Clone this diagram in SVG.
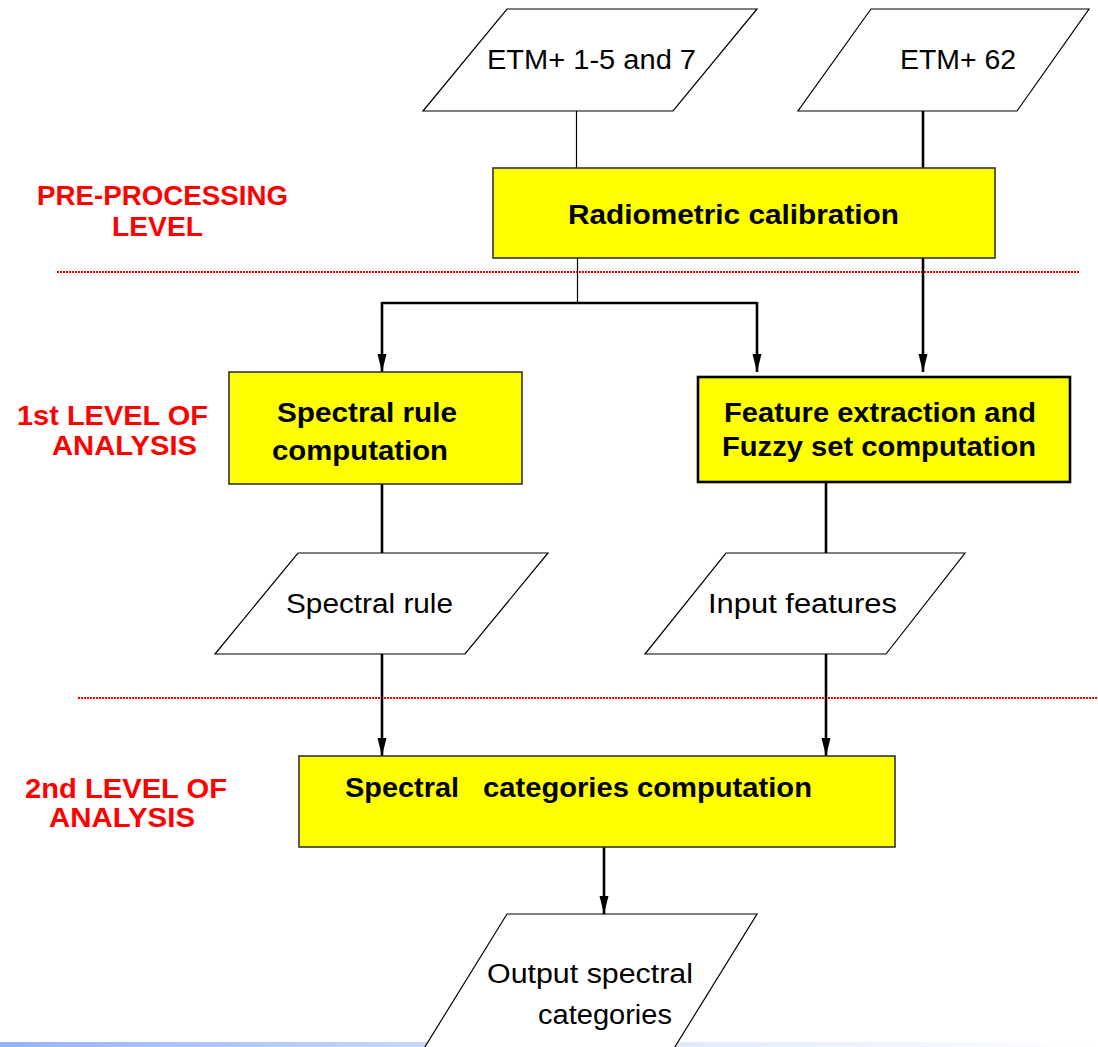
<svg xmlns="http://www.w3.org/2000/svg" width="1098" height="1047" viewBox="0 0 1098 1047">
  <style>
    .para { fill: #ffffff; stroke: #000000; stroke-width: 1.2; }
    .box { fill: #ffff00; stroke: #333333; stroke-width: 1.6; }
    .reg { font-family: "Liberation Sans", Arial, sans-serif; font-size: 27px; fill: #000000; }
    .bold { font-family: "Liberation Sans", Arial, sans-serif; font-size: 27px; font-weight: bold; fill: #000000; }
    .lab { font-family: "Liberation Sans", Arial, sans-serif; font-size: 27px; font-weight: bold; fill: #ff0000; }
    .thin { stroke: #000000; stroke-width: 1.2; fill: none; }
    .thick { stroke: #000000; stroke-width: 2.6; fill: none; }
    .sep { stroke: #ff0000; stroke-width: 2; stroke-dasharray: 2 1; fill: none; }
  </style>
  <defs>
    <marker id="arr" markerUnits="userSpaceOnUse" markerWidth="18" markerHeight="10" refX="18" refY="5" orient="auto">
      <path d="M0,0.5 L18,5 L0,9.5 z" fill="#000000"/>
    </marker>
    <linearGradient id="bar" x1="0" y1="0" x2="1" y2="0">
      <stop offset="0" stop-color="#94b4f4"/>
      <stop offset="0.5" stop-color="#d6e3fc"/>
      <stop offset="1" stop-color="#ffffff"/>
    </linearGradient>
  </defs>

  <rect x="0" y="1042" width="1098" height="5" fill="url(#bar)"/>

  <g id="separators">
    <line class="sep" x1="57" y1="272" x2="1080" y2="272"/>
    <line class="sep" x1="78" y1="698" x2="1098" y2="698"/>
  </g>

  <g id="labels">
    <text class="lab" x="37" y="205" textLength="251" lengthAdjust="spacingAndGlyphs">PRE-PROCESSING</text>
    <text class="lab" x="112" y="236" textLength="91" lengthAdjust="spacingAndGlyphs">LEVEL</text>
    <text class="lab" x="17" y="425" textLength="191" lengthAdjust="spacingAndGlyphs">1st LEVEL OF</text>
    <text class="lab" x="52" y="455" textLength="145" lengthAdjust="spacingAndGlyphs">ANALYSIS</text>
    <text class="lab" x="25" y="798" textLength="202" lengthAdjust="spacingAndGlyphs">2nd LEVEL OF</text>
    <text class="lab" x="49" y="827" textLength="146" lengthAdjust="spacingAndGlyphs">ANALYSIS</text>
  </g>

  <g id="connectors">
    <line class="thin" x1="576.5" y1="111" x2="576.5" y2="168"/>
    <line class="thick" x1="923" y1="111" x2="923" y2="168"/>
    <line class="thin" x1="577.5" y1="258" x2="577.5" y2="303"/>
    <line class="thick" x1="382" y1="303" x2="757" y2="303"/>
    <line class="thick" x1="382" y1="302" x2="382" y2="372" marker-end="url(#arr)"/>
    <line class="thick" x1="757" y1="302" x2="757" y2="372" marker-end="url(#arr)"/>
    <line class="thick" x1="923" y1="258" x2="923" y2="372" marker-end="url(#arr)"/>
    <line class="thick" x1="382" y1="484" x2="382" y2="553"/>
    <line class="thick" x1="826" y1="482" x2="826" y2="553"/>
    <line class="thick" x1="382" y1="654" x2="382" y2="756" marker-end="url(#arr)"/>
    <line class="thick" x1="826" y1="654" x2="826" y2="756" marker-end="url(#arr)"/>
    <line class="thick" x1="604" y1="847" x2="604" y2="914" marker-end="url(#arr)"/>
  </g>

  <g id="etm-1-5-7">
    <polygon class="para" points="507,9 757,9 673,111 423,111"/>
    <text class="reg" x="487" y="69" textLength="209" lengthAdjust="spacingAndGlyphs">ETM+ 1-5 and 7</text>
  </g>

  <g id="etm-62">
    <polygon class="para" points="871,9 1089,9 1017,111 798,111"/>
    <text class="reg" x="900" y="69" textLength="116" lengthAdjust="spacingAndGlyphs">ETM+ 62</text>
  </g>

  <g id="radiometric">
    <rect class="box" x="493" y="168" width="502" height="90"/>
    <text class="bold" x="568" y="224" textLength="331" lengthAdjust="spacingAndGlyphs">Radiometric calibration</text>
  </g>

  <g id="spectral-rule-computation">
    <rect class="box" x="229" y="372" width="293" height="112"/>
    <text class="bold" x="277" y="422" textLength="180" lengthAdjust="spacingAndGlyphs">Spectral rule</text>
    <text class="bold" x="272" y="460" textLength="176" lengthAdjust="spacingAndGlyphs">computation</text>
  </g>

  <g id="feature-extraction">
    <rect class="box" x="698" y="377" width="372" height="105" style="stroke:#000000;stroke-width:2.6"/>
    <text class="bold" x="724" y="422" textLength="312" lengthAdjust="spacingAndGlyphs">Feature extraction and</text>
    <text class="bold" x="722" y="456" textLength="314" lengthAdjust="spacingAndGlyphs">Fuzzy set computation</text>
  </g>

  <g id="spectral-rule">
    <polygon class="para" points="298,553 548,553 465,654 215,654"/>
    <text class="reg" x="286" y="613" textLength="167" lengthAdjust="spacingAndGlyphs">Spectral rule</text>
  </g>

  <g id="input-features">
    <polygon class="para" points="726,553 965,553 886,654 645,654"/>
    <text class="reg" x="708" y="613" textLength="189" lengthAdjust="spacingAndGlyphs">Input features</text>
  </g>

  <g id="spectral-categories-computation">
    <rect class="box" x="299" y="756" width="596" height="91"/>
    <text class="bold" x="345" y="797"><tspan textLength="114" lengthAdjust="spacingAndGlyphs">Spectral</tspan> <tspan x="483" textLength="329" lengthAdjust="spacingAndGlyphs">categories computation</tspan></text>
  </g>

  <g id="output-categories">
    <polygon class="para" points="507,914 757,914 673,1050 423,1050"/>
    <text class="reg" x="487" y="983" textLength="206" lengthAdjust="spacingAndGlyphs">Output spectral</text>
    <text class="reg" x="538" y="1024" textLength="134" lengthAdjust="spacingAndGlyphs">categories</text>
  </g>
</svg>
